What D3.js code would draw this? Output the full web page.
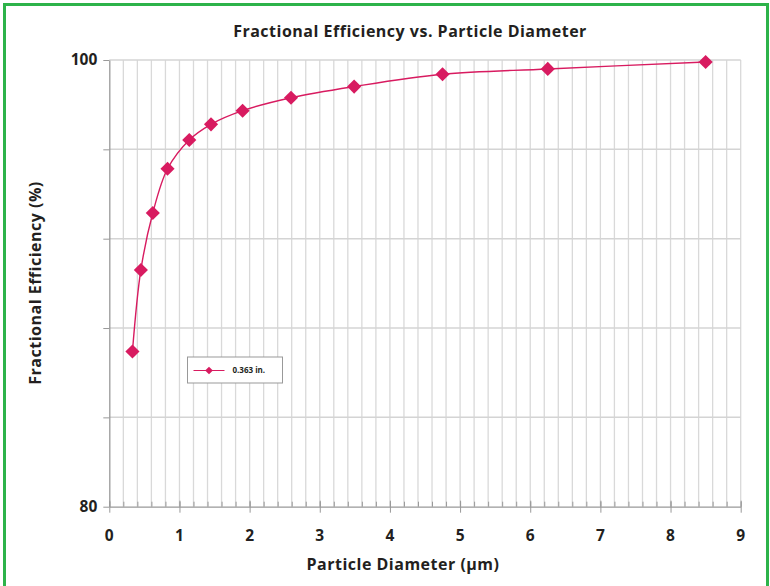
<!DOCTYPE html>
<html>
<head>
<meta charset="utf-8">
<script src="https://cdn.jsdelivr.net/npm/d3@7"></script>
<style>
  body { margin: 0; background: #fff; }
  svg text { font-family: "Open Sans", Lato, sans-serif; fill: #231f20; }
</style>
</head>
<body>
<div id="chart"></div>
<script>
'use strict';

// particle diameter (um) and efficiency (%)
var diameters = [0.33, 0.45, 0.62, 0.83, 1.14, 1.45, 1.9, 2.59, 3.49, 4.75, 6.25, 8.5];
var efficiency = [86.95, 90.6, 93.15, 95.13, 96.42, 97.12, 97.73, 98.31, 98.81, 99.36, 99.6, 99.91];
var seriesName = '0.363 in.';
var xTicks = [0, 1, 2, 3, 4, 5, 6, 7, 8, 9];
var yLabelTicks = [80, 100];

var width = 770,
    height = 586;
var margin = { left: 109.3, top: 60, right: 29.3, bottom: 79.3 };
var lineColor = '#d81b60';

var svg = d3.select('#chart').append('svg')
    .attr('width', width)
    .attr('height', height);

// green frame
svg.append('path')
    .attr('d', 'M4.5,' + (height + 5) + 'V4.5H767.5V' + (height + 5))
    .attr('fill', 'none')
    .attr('stroke', '#2db34a')
    .attr('stroke-width', 3);

var x = d3.scaleLinear().domain([0, 9]).range([margin.left, width - margin.right]);
var y = d3.scaleLinear().domain([80, 100]).range([height - margin.bottom, margin.top]);

var g = svg.append('g');

// vertical grid every 0.2
g.selectAll('.vgrid').data(d3.range(1, 46).map(function (i) { return i * 0.2; }))
    .enter().append('line')
    .attr('class', 'vgrid')
    .attr('x1', function (d) { return x(d); })
    .attr('x2', function (d) { return x(d); })
    .attr('y1', y(80))
    .attr('y2', y(100))
    .attr('stroke', '#d9d9d9')
    .attr('stroke-width', 1.3);

// horizontal grid every 4
g.selectAll('.hgrid').data(d3.range(84, 101, 4))
    .enter().append('line')
    .attr('class', 'hgrid')
    .attr('x1', x(0))
    .attr('x2', x(9))
    .attr('y1', function (d) { return y(d); })
    .attr('y2', function (d) { return y(d); })
    .attr('stroke', '#d4d4d4')
    .attr('stroke-width', 1.5);

// x axis with minor ticks pointing up
var xAxisG = g.append('g')
    .attr('transform', 'translate(0,' + y(80) + ')');
xAxisG.call(d3.axisBottom(x).tickValues(d3.range(0, 46).map(function (i) { return i * 0.2; }))
    .tickSize(-5).tickSizeOuter(0).tickFormat(''));
xAxisG.call(function (s) { s.selectAll('.tick line').attr('stroke', '#999'); });
var xMajor = g.append('g')
    .attr('transform', 'translate(0,' + (y(80) - 6) + ')')
    .call(d3.axisBottom(x).tickValues(xTicks).tickSize(12).tickSizeOuter(0).tickFormat(''));
xMajor.select('.domain').remove();
xMajor.selectAll('.tick line').attr('stroke', '#999');
xAxisG.select('.domain').attr('stroke', '#999').attr('stroke-width', 1.3);

g.selectAll('.xlabel').data(xTicks)
    .enter().append('text')
    .attr('class', 'xlabel')
    .attr('x', function (d) { return x(d); })
    .attr('y', y(80) + 34)
    .attr('text-anchor', 'middle')
    .attr('font-size', 15.5)
    .attr('font-weight', 700)
    .text(function (d) { return d; });

// y axis
var yAxisG = g.append('g')
    .attr('transform', 'translate(' + x(0) + ',0)')
    .call(d3.axisLeft(y).tickValues(d3.range(80, 101, 4)).tickSize(6).tickSizeOuter(0).tickFormat(''));
yAxisG.select('.domain').attr('stroke', '#999').attr('stroke-width', 1.3);
yAxisG.selectAll('.tick line').attr('stroke', '#999');

g.selectAll('.ylabel').data(yLabelTicks)
    .enter().append('text')
    .attr('class', 'ylabel')
    .attr('x', x(0) - 12)
    .attr('y', function (d) { return y(d); })
    .attr('dy', '0.35em')
    .attr('text-anchor', 'end')
    .attr('font-size', 15.5)
    .attr('font-weight', 700)
    .text(function (d) { return d; });

// series
var points = diameters.map(function (d, i) { return [d, efficiency[i]]; });
var line = d3.line()
    .x(function (d) { return x(d[0]); })
    .y(function (d) { return y(d[1]); })
    .curve(d3.curveCatmullRom.alpha(0.5));

g.append('path')
    .datum(points)
    .attr('d', line)
    .attr('fill', 'none')
    .attr('stroke', lineColor)
    .attr('stroke-width', 1.4);

var diamond = d3.symbol().type(d3.symbolSquare).size(100);
g.selectAll('.marker').data(points)
    .enter().append('path')
    .attr('class', 'marker')
    .attr('d', diamond)
    .attr('transform', function (d) { return 'translate(' + x(d[0]) + ',' + y(d[1]) + ') rotate(45)'; })
    .attr('fill', lineColor);

// legend
var legend = svg.append('g').attr('transform', 'translate(187.5,357)');
legend.append('rect')
    .attr('width', 95)
    .attr('height', 26)
    .attr('fill', '#fff')
    .attr('stroke', '#999')
    .attr('stroke-width', 1);
legend.append('line')
    .attr('x1', 6).attr('x2', 37)
    .attr('y1', 13.5).attr('y2', 13.5)
    .attr('stroke', lineColor)
    .attr('stroke-width', 1);
legend.append('path')
    .attr('d', d3.symbol().type(d3.symbolSquare).size(30))
    .attr('transform', 'translate(21.5,13.5) rotate(45)')
    .attr('fill', lineColor);
legend.append('text')
    .attr('x', 45)
    .attr('y', 13.5)
    .attr('dy', '0.35em')
    .attr('font-size', 8)
    .attr('font-weight', 700)
    .text(seriesName);

// titles
svg.append('text')
    .attr('x', 410)
    .attr('y', 37)
    .attr('text-anchor', 'middle')
    .attr('font-size', 16)
    .attr('font-weight', 700)
    .attr('letter-spacing', 0.5)
    .text('Fractional Efficiency vs. Particle Diameter');

svg.append('text')
    .attr('x', 403)
    .attr('y', 570)
    .attr('text-anchor', 'middle')
    .attr('font-size', 16)
    .attr('font-weight', 700)
    .attr('letter-spacing', 0.5)
    .text('Particle Diameter (µm)');

svg.append('text')
    .attr('transform', 'translate(41,283) rotate(-90)')
    .attr('text-anchor', 'middle')
    .attr('font-size', 16)
    .attr('font-weight', 700)
    .attr('letter-spacing', 0.5)
    .text('Fractional Efficiency (%)');
</script>
</body>
</html>
